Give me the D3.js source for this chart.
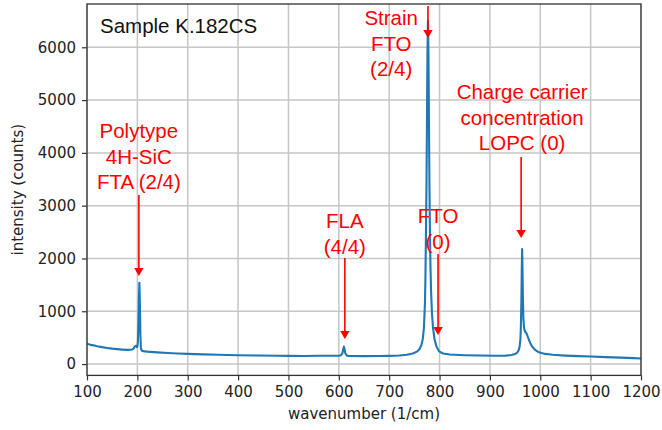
<!DOCTYPE html>
<html>
<head>
<meta charset="utf-8">
<script src="https://cdn.jsdelivr.net/npm/d3@7"></script>
<style>
  body { margin: 0; background: #fff; }
  svg { display: block; }
</style>
</head>
<body>
<script>
// Raman spectrum: wavenumber (1/cm) and intensity (counts)
var wavenumber = [
  100, 102, 105, 110, 115, 120, 130, 140, 150, 160,
  170, 180, 186, 190, 193, 195, 197, 199, 200, 201,
  202, 203, 204, 205, 206, 207, 209, 212, 220, 240,
  260, 280, 300, 330, 360, 400, 440, 480, 500, 530,
  560, 590, 600, 604, 607, 609, 610, 611, 613, 616,
  620, 650, 680, 700, 720, 735, 747, 755, 760, 764,
  767, 769, 771, 772, 773, 774, 775, 776, 777, 778,
  779, 780, 781, 782, 783, 785, 787, 790, 794, 799,
  807, 820, 850, 880, 910, 930, 943, 950, 954, 957,
  959, 960.5, 961.5, 962.5, 963.3, 964, 964.7, 965.5, 966.5, 968,
  970, 972, 974, 977, 980, 984, 989, 995, 1002, 1010,
  1025, 1050, 1075, 1100, 1130, 1160, 1185, 1200
];
var intensity = [
  390, 380, 372, 358, 350, 338, 320, 305, 292, 282,
  274, 268, 270, 276, 300, 335, 345, 320, 330, 420,
  700, 1200, 1540, 1150, 560, 300, 252, 245, 235, 222,
  210, 200, 192, 183, 175, 167, 161, 156, 154, 153,
  156, 158, 157, 165, 200, 290, 330, 300, 200, 160,
  152, 150, 152, 155, 162, 175, 200, 235, 280, 360,
  490, 690, 1150, 1650, 2450, 3325, 4550, 5870, 6500, 5870,
  4550, 3325, 2450, 1840, 1430, 950, 690, 470, 330, 240,
  200, 180, 168, 161, 157, 157, 172, 190, 215, 260,
  330, 460, 700, 1200, 1800, 2180, 1800, 1250, 850, 670,
  610, 590, 550, 470, 400, 330, 275, 235, 210, 192,
  175, 160, 150, 142, 132, 122, 112, 105
];

var xTicks = [100, 200, 300, 400, 500, 600, 700, 800, 900, 1000, 1100, 1200];
var yTicks = [0, 1000, 2000, 3000, 4000, 5000, 6000];

// annotazioni: righe di testo, centro testo (x, y prima riga), freccia (x, inizio, punta)
var annLines = [
  ["Polytype", "4H-SiC", "FTA (2/4)"],
  ["FLA", "(4/4)"],
  ["FTO", "(0)"],
  ["Strain", "FTO", "(2/4)"],
  ["Charge carrier", "concentration", "LOPC (0)"]
];
var annTextX = [203, 612, 797, 704, 964];
var annTextY = [4280, 2576, 2670, 6420, 5019];
var annArrowX = [203, 612, 797, 777, 962];
var annArrowFrom = [3200, 2008, 2083, 6780, 3920];
var annArrowTo = [1670, 473, 549, 6174, 2386];

var sampleLabel = "Sample K.182CS";

var totalWidth = 662, totalHeight = 430;
var margin = {top: 4, right: 21, bottom: 54.6, left: 87};
var width = totalWidth - margin.left - margin.right;
var height = totalHeight - margin.top - margin.bottom;

var svg = d3.select("body").append("svg")
  .attr("width", totalWidth)
  .attr("height", totalHeight);

var g = svg.append("g")
  .attr("transform", "translate(" + margin.left + "," + margin.top + ")");

var x = d3.scaleLinear().domain([100, 1200]).range([0, width]);
var y = d3.scaleLinear().domain([-215, 6820]).range([height, 0]);

// griglia
g.append("g").selectAll("line").data(xTicks).enter().append("line")
  .attr("x1", function(d) { return x(d); }).attr("x2", function(d) { return x(d); })
  .attr("y1", 0).attr("y2", height)
  .attr("stroke", "#c6c6c6").attr("stroke-width", 1.5);
g.append("g").selectAll("line").data(yTicks).enter().append("line")
  .attr("y1", function(d) { return y(d); }).attr("y2", function(d) { return y(d); })
  .attr("x1", 0).attr("x2", width)
  .attr("stroke", "#c6c6c6").attr("stroke-width", 1.5);

// spettro
var pts = wavenumber.map(function(w, i) { return [w, intensity[i]]; });
var line = d3.line()
  .x(function(d) { return x(d[0]); })
  .y(function(d) { return y(d[1]); });

g.append("path")
  .datum(pts)
  .attr("d", line)
  .attr("fill", "none")
  .attr("stroke", "#1f77b4")
  .attr("stroke-width", 2.1)
  .attr("stroke-linejoin", "round");

// bordo
g.append("rect")
  .attr("width", width).attr("height", height)
  .attr("fill", "none").attr("stroke", "#333").attr("stroke-width", 1.3);

// assi
var xAxis = d3.axisBottom(x).tickValues(xTicks).tickSize(5).tickPadding(6).tickFormat(d3.format("d"));
var yAxis = d3.axisLeft(y).tickValues(yTicks).tickSize(5).tickPadding(6).tickFormat(d3.format("d"));

var gx = g.append("g").attr("transform", "translate(0," + height + ")").call(xAxis);
var gy = g.append("g").call(yAxis);
[gx, gy].forEach(function(a) {
  a.select(".domain").remove();
  a.selectAll("line").attr("stroke", "#333").attr("stroke-width", 1.2);
  a.selectAll("text")
    .attr("fill", "#222")
    .style("font-family", "DejaVu Sans")
    .style("font-size", "15px");
});

g.append("text")
  .attr("x", width / 2).attr("y", height + 44)
  .attr("text-anchor", "middle")
  .style("font-family", "DejaVu Sans").style("font-size", "15px").attr("fill", "#222")
  .text("wavenumber (1/cm)");

g.append("text")
  .attr("transform", "translate(" + (-64) + "," + (height / 2) + ") rotate(-90)")
  .attr("text-anchor", "middle")
  .style("font-family", "DejaVu Sans").style("font-size", "15px").attr("fill", "#222")
  .text("intensity (counts)");

// etichetta campione
g.append("text")
  .attr("x", 13).attr("y", 29)
  .style("font-family", "Liberation Sans, Arial").style("font-size", "20.5px").attr("fill", "#111")
  .text(sampleLabel);

// annotazioni rosse
var red = "#ff0000";
annLines.forEach(function(lines, i) {
  var t = g.append("text")
    .attr("text-anchor", "middle")
    .style("font-family", "Liberation Sans, Arial").style("font-size", "20.5px")
    .attr("fill", red);
  lines.forEach(function(s, k) {
    t.append("tspan")
      .attr("x", x(annTextX[i]))
      .attr("y", y(annTextY[i]) + k * 25.5)
      .text(s);
  });

  var ax = x(annArrowX[i]);
  var y0 = y(annArrowFrom[i]);
  var y1 = y(annArrowTo[i]);
  g.append("line")
    .attr("x1", ax).attr("x2", ax)
    .attr("y1", y0).attr("y2", y1 - 6)
    .attr("stroke", red).attr("stroke-width", 1.6);
  g.append("path")
    .attr("d", "M" + (ax - 4.7) + "," + (y1 - 8) + "L" + (ax + 4.7) + "," + (y1 - 8) + "L" + ax + "," + y1 + "Z")
    .attr("fill", red);
});
</script>
</body>
</html>
